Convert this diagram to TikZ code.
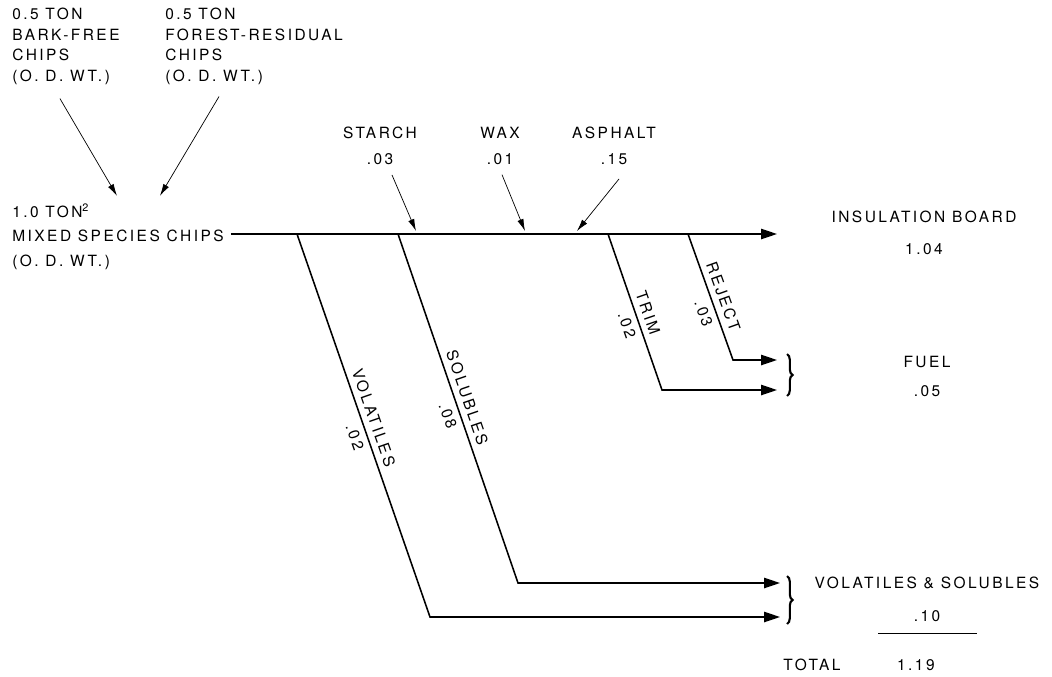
\documentclass[tikz,border=0pt]{standalone}
\usepackage{fontspec}
\setmainfont{TeX Gyre Heros}[LetterSpace=16]
\usetikzlibrary{arrows.meta}
\usetikzlibrary{positioning}
\usetikzlibrary{calc}
\usetikzlibrary{decorations.pathreplacing}

\begin{document}
\begin{tikzpicture}
    [x=0.025cm,y=-0.025cm,
lettering/.style={inner sep=0pt, font=\fontsize{11}{14.5}\selectfont},blocktext/.style={lettering, align=left},
flowline/.style={line width=1.1pt, -{Triangle[length=4mm,width=2.6mm]}},feedline/.style={line width=0.5pt, -{Latex[length=3mm,width=1.6mm]}},
slopedtext/.style={lettering, sloped, inner sep=4pt},
bracket/.style={line width=1.5pt, decorate, decoration={brace,amplitude=4pt}}
]
\useasboundingbox (0,0) rectangle (1052,677);

% raw material
\node[blocktext, anchor=north west](barkfree) at (12,8) {0.5 TON\\BARK-FREE\\CHIPS\\(O. D. WT.)};
\node[blocktext, anchor=north west](forest) at (165,8) {0.5 TON\\FOREST-RESIDUAL\\CHIPS\\(O. D. WT.)};
\node[blocktext, anchor=west, font=\fontsize{11}{17.5}\selectfont](mixed) at (12,237) {1.0 TON\textsuperscript{2}\\MIXED SPECIES CHIPS\\(O. D. WT.)};

\draw[feedline] ($(barkfree.south)+(-6,14)$) to ($(mixed.north)+(-1,-8)$);
\draw[feedline] ($(forest.south)+(-35,12)$) to ($(mixed.north)+(42,-8)$);

% additives
\node[lettering](starch) at (380,133) {STARCH};
\node[lettering](starchv)[below=3.5mm of starch] {.03};
\node[lettering](wax) at (500,133) {WAX};
\node[lettering](waxv)[below=3.5mm of wax] {.01};
\node[lettering](asphalt) at (614,133) {ASPHALT};
\node[lettering](asphaltv)[below=3.5mm of asphalt] {.15};

% products
\node[lettering](board) at (924,217) {INSULATION BOARD};
\node[lettering](boardv)[below=5mm of board] {1.04};
\node[lettering](fuel) at (927,362) {FUEL};
\node[lettering](fuelv)[below=4.2mm of fuel] {.05};
\node[lettering](volsol) at (927,583) {VOLATILES \& SOLUBLES};
\node[lettering](volsolv)[below=5.2mm of volsol] {.10};
\node[lettering](total) at (812,665) {TOTAL};
\node[lettering](totalv)[right=14mm of total] {1.19};

\coordinate (jvol) at (297,234);
\coordinate (jsol) at (398,234);
\coordinate (jtrim) at (608,234);
\coordinate (jrej) at (688,234);
\coordinate (outboard) at (777,234);
\coordinate (astarch) at (416,231);
\coordinate (awax) at (525,231);
\coordinate (aasphalt) at (577,231);
\coordinate (cvol) at (430,617);
\coordinate (outvol) at (780,617);
\coordinate (csol) at (518,583);
\coordinate (outsol) at (780,583);
\coordinate (ctrim) at (662,390);
\coordinate (outtrim) at (777,390);
\coordinate (crej) at (733,360);
\coordinate (outrej) at (777,360);

\draw[flowline] ($(mixed.east |- outboard)+(7,0)$) to (outboard);

\draw[feedline] ($(starchv.south)+(12,10)$) to (astarch);
\draw[feedline] ($(waxv.south)+(2,10)$) to (awax);
\draw[feedline] ($(asphaltv.south)+(5,14)$) to (aasphalt);

\draw[flowline] (jvol) to node[slopedtext,pos=0.49,above]{VOLATILES} node[slopedtext,pos=0.52,below]{.02} (cvol) to (outvol);
\draw[flowline] (jsol) to node[slopedtext,pos=0.48,above]{SOLUBLES} node[slopedtext,pos=0.51,below]{.08} (csol) to (outsol);
\draw[flowline] (jtrim) to node[slopedtext,pos=0.53,above]{TRIM} node[slopedtext,pos=0.56,below]{.02} (ctrim) to (outtrim);
\draw[flowline] (jrej) to node[slopedtext,pos=0.53,above]{REJECT} node[slopedtext,pos=0.6,below]{.03} (crej) to (outrej);

\draw[bracket] (787,354) -- (787,396);
\draw[bracket] (787,576) -- (787,624);
\draw[line width=0.6pt] (878,633) -- (977,633);
\end{tikzpicture}
\end{document}
